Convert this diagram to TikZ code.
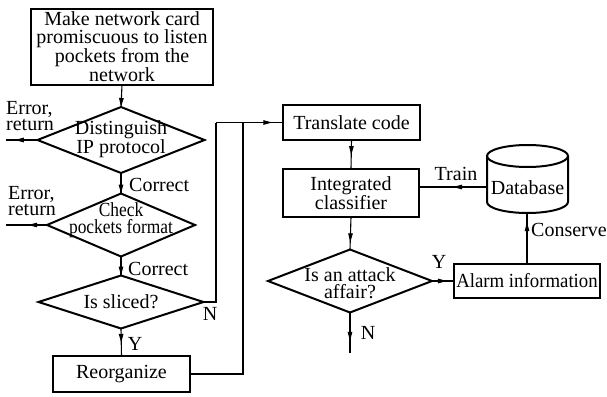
\documentclass[tikz,border=0pt]{standalone}
\usepackage{fontspec}
\usepackage{graphicx}
\setmainfont{Liberation Serif}
\usetikzlibrary{shapes.geometric,arrows.meta,decorations.markings}
\begin{document}
\begin{tikzpicture}[x=1pt,y=1pt,
  every node/.style={font=\fontsize{20}{17.5}\selectfont},
  box/.style={draw,line width=2.2pt,inner sep=0pt,outer sep=0pt,align=center},
  dia/.style={draw,diamond,line width=2pt,inner sep=0pt,outer sep=0pt},
  lbl/.style={inner sep=0pt,align=center},
  conn/.style={line width=1.1pt},
  tipat/.style={postaction={decorate},decoration={markings,
    mark=at position #1 with {\arrow{Triangle[length=9pt,width=4.5pt]}}}}
]
\useasboundingbox (0,0) rectangle (607,-396);

% left column: capture and checks
\node[box,minimum width=182pt,minimum height=76pt] (start) at (122,-47)
  {Make network card\\promiscuous to listen\\pockets from the\\network};
\node[dia,minimum width=167pt,minimum height=66pt] (d1) at (121,-140) {};
\node[lbl] (d1t) at (121,-139) {Distinguish\\IP protocol};
\node[dia,minimum width=148pt,minimum height=63pt] (d2) at (121,-225) {};
\node[lbl] (d2t) at (121,-220) {\scalebox{0.87}[1]{Check}\\\scalebox{0.87}[1]{pockets format}};
\node[dia,minimum width=165pt,minimum height=53pt] (d3) at (121,-302) {};
\node[lbl] (d3t) at (121,-302) {Is sliced?};
\node[box,minimum width=137pt,minimum height=36pt] (reorg) at (121.5,-374) {Reorganize};

% right column: classification
\node[box,minimum width=137pt,minimum height=35pt] (tc) at (351.5,-122.5) {Translate code};
\node[box,minimum width=136pt,minimum height=48pt] (ic) at (351,-193) {Integrated\\classifier};
\node[dia,minimum width=164pt,minimum height=63pt] (d4) at (350,-281) {};
\node[lbl] (d4t) at (350,-283) {Is an attack\\affair?};
\node[box,line width=2pt,minimum width=146pt,minimum height=34pt] (al) at (527,-281)
  {\scalebox{0.94}[1]{Alarm information}};

% database cylinder
\draw[line width=2pt] (527.5,-156) ellipse [x radius=40.5pt, y radius=11pt];
\draw[line width=2pt] (487,-156) -- (487,-202)
  arc[start angle=180,end angle=360,x radius=40.5pt,y radius=11pt] -- (568,-156);
\node[lbl] (db) at (527.5,-188) {Database};
\coordinate (dbw) at (487,-187);
\coordinate (dbs) at (526,-213);

% free ends and bends
\coordinate (e1) at (6,-140);
\coordinate (e2) at (6,-225);
\coordinate (jn) at (216,-122.5);
\coordinate (jr) at (243,-122.5);
\coordinate (nend) at (350,-353);

% connectors
\draw[conn,tipat=1] (start.south) -- (d1.north);
\draw[conn,tipat=0.72] (d1.west) -- (e1);
\draw[conn,tipat=1] (d1.south) -- (d2.north);
\draw[conn,tipat=0.46] (d2.west) -- (e2);
\draw[conn,tipat=1] (d2.south) -- (d3.north);
\draw[conn,tipat=0.52] (d3.south) -- (reorg.north);
\draw[conn] (d3.east) -| (jn);
\draw[conn,tipat=0.84] (jn) -- (tc.west);
\draw[conn] (reorg.east) -| (jr);
\draw[conn,tipat=0.52] (tc.south) -- (ic.north);
\draw[conn,tipat=0.78] (ic.south) -- (d4.north);
\draw[conn,tipat=0.68] (d4.east) -- (al.west);
\draw[conn,tipat=0.7] (d4.south) -- (nend);
\draw[conn,tipat=0.82] (al.north) -- (al.north |- dbs);
\draw[conn,tipat=0.5] (dbw) -- (ic.east |- dbw);

% labels
\node[lbl,font=\fontsize{20}{13.5}\selectfont,align=left,anchor=west] (er1) at (6,-116) {Error,\\return};
\node[lbl,font=\fontsize{20}{13.5}\selectfont,align=left,anchor=west] (er2) at (8,-201) {Error,\\return};
\node[lbl,anchor=west] (c1) at (129,-185) {Correct};
\node[lbl,anchor=west] (c2) at (128,-269) {Correct};
\node[lbl] (n1) at (210,-314) {N};
\node[lbl] (y1) at (135,-344) {Y};
\node[lbl] (y2) at (439,-262) {Y};
\node[lbl] (n2) at (368,-333) {N};
\node[lbl] (train) at (456,-174) {Train};
\node[lbl,anchor=west] (cons) at (531,-230) {Conserve};
\end{tikzpicture}
\end{document}
